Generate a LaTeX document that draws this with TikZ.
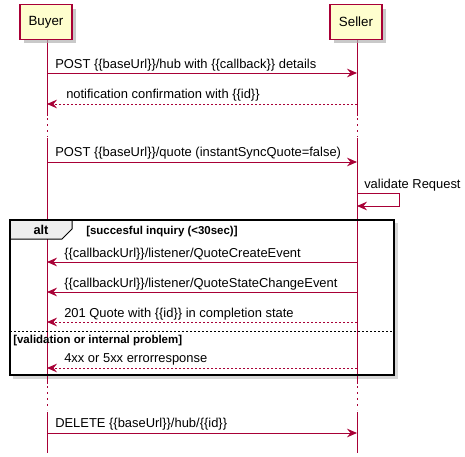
\documentclass[tikz,border=0pt]{standalone}
\usepackage{fontspec}
\setmainfont{Liberation Sans}
\usetikzlibrary{arrows.meta}
\usetikzlibrary{shadows}

\definecolor{umlred}{RGB}{168,0,54}
\definecolor{umlfill}{RGB}{254,254,206}
\definecolor{tabgray}{RGB}{238,238,238}

\tikzset{
  participant/.style={draw=umlred, line width=1.1pt, fill=umlfill, minimum width=39pt, minimum height=26pt, inner sep=0pt, font=\fontsize{10}{12}\selectfont, drop shadow={shadow xshift=3pt, shadow yshift=-3pt, fill=gray!60, opacity=0.7}},
  lifeline/.style={draw=umlred, line width=0.75pt},
  gapline/.style={draw=umlred, line width=0.75pt, dash pattern=on 1.2pt off 3.3pt},
  msg/.style={draw=umlred, line width=0.75pt, -{Stealth[length=7.5pt,width=6.5pt,inset=2.6pt]}},
  reply/.style={msg, dash pattern=on 1.5pt off 1.5pt},
  msgtext/.style={anchor=base west, inner sep=0pt, font=\fontsize{9.7}{11}\selectfont},
  guard/.style={anchor=base west, inner sep=0pt, font=\fontsize{8.6}{10}\selectfont\bfseries},
}

\begin{document}
\begin{tikzpicture}[x=0.75pt,y=0.75pt,yscale=-1,xscale=1]
\useasboundingbox (0,0) rectangle (465,457);

%alt frame (drawn first so shadow sits below)
\fill [gray!45, opacity=0.7] (13,223) rectangle (398,379);
\fill [white] (10,220) rectangle (394,375);

%Lifelines
\coordinate (b0) at (47,40);
\coordinate (s0) at (357,40);
\draw [lifeline] (b0) -- (47,116);
\draw [gapline] (47,118) -- (47,137);
\draw [lifeline] (47,138) -- (47,384);
\draw [gapline] (47,386) -- (47,410);
\draw [lifeline] (47,412) -- (47,453);
\draw [lifeline] (s0) -- (357,116);
\draw [gapline] (357,118) -- (357,137);
\draw [lifeline] (357,138) -- (357,384);
\draw [gapline] (357,386) -- (357,410);
\draw [lifeline] (357,412) -- (357,453);

%Participants
\node [participant] (buyer) at (46,22) {Buyer};
\node [participant] (seller) at (356,22) {Seller};

%Message points
\coordinate (b1) at (47,73);   \coordinate (s1) at (357,73);
\coordinate (b2) at (47,104);  \coordinate (s2) at (357,104);
\coordinate (b3) at (47,162);  \coordinate (s3) at (357,162);
\coordinate (s4a) at (357,193); \coordinate (s4b) at (357,206);
\coordinate (b5) at (47,262);  \coordinate (s5) at (357,262);
\coordinate (b6) at (47,292);  \coordinate (s6) at (357,292);
\coordinate (b7) at (47,322);  \coordinate (s7) at (357,322);
\coordinate (b8) at (47,368);  \coordinate (s8) at (357,368);
\coordinate (b9) at (47,433);  \coordinate (s9) at (357,433);

%Messages
\draw [msg] (b1) -- (s1);
\draw (55,68) node [msgtext] {POST \{\{baseUrl\}\}/hub with \{\{callback\}\} details};
\draw [reply] (s2) -- (b2);
\draw (66,98) node [msgtext] {notification confirmation with \{\{id\}\}};
\draw [msg] (b3) -- (s3);
\draw (55,156) node [msgtext] {POST \{\{baseUrl\}\}/quote (instantSyncQuote=false)};
\draw [msg] (s4a) -- (399,193) -- (399,206) -- (s4b);
\draw (364,188) node [msgtext] {validate Request};
\draw [msg] (s5) -- (b5);
\draw (64,257) node [msgtext] {\{\{callbackUrl\}\}/listener/QuoteCreateEvent};
\draw [msg] (s6) -- (b6);
\draw (64,287) node [msgtext] {\{\{callbackUrl\}\}/listener/QuoteStateChangeEvent};
\draw [reply] (s7) -- (b7);
\draw (64,317) node [msgtext] {201 Quote with \{\{id\}\} in completion state};
\draw [reply] (s8) -- (b8);
\draw (64,362) node [msgtext] {4xx or 5xx errorresponse};
\draw [msg] (b9) -- (s9);
\draw (55,427) node [msgtext] {DELETE \{\{baseUrl\}\}/hub/\{\{id\}\}};

%alt frame border and tab
\draw [fill=tabgray, line width=0.75pt] (10,220) -- (72,220) -- (72,229) -- (62,239) -- (10,239) -- cycle;
\draw (41,234) node [anchor=base, inner sep=0pt, font=\fontsize{9.6}{11}\selectfont\bfseries] {alt};
\draw (86,234) node [guard] {[succesful inquiry (<30sec)]};
\draw [dash pattern=on 1.5pt off 1.5pt, line width=0.6pt] (10,331) -- (394,331);
\draw (13,343) node [guard] {[validation or internal problem]};
\draw [line width=1.5pt] (10,220) rectangle (394,375);
\end{tikzpicture}
\end{document}
